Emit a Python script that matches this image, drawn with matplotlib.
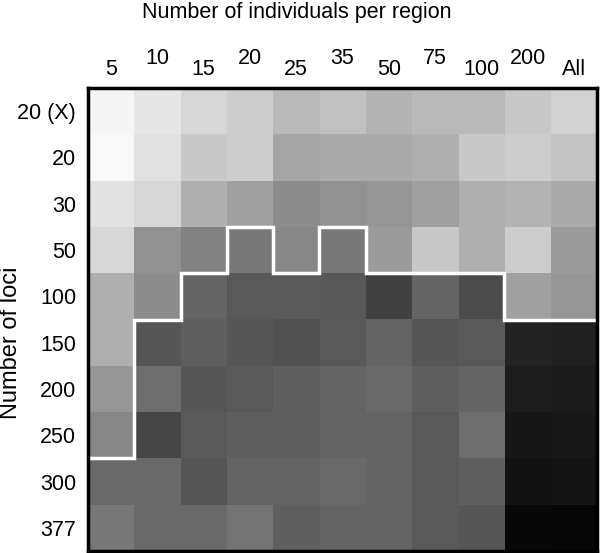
import numpy as np
import matplotlib.pyplot as plt

plt.rcParams['font.family'] = ['Liberation Sans', 'DejaVu Sans']

# column and row labels
individus = ["5", "10", "15", "20", "25", "35", "50", "75", "100", "200", "All"]
loci = ["20 (X)", "20", "30", "50", "100", "150", "200", "250", "300", "377"]

# grey level of each cell (0 = black, 255 = white)
gris = np.array([
    [245, 230, 215, 205, 185, 192, 180, 185, 185, 200, 210],
    [248, 225, 200, 205, 165, 170, 170, 175, 200, 205, 195],
    [225, 215, 175, 160, 140, 145, 150, 160, 175, 180, 170],
    [215, 145, 130, 120, 135, 120, 155, 200, 175, 205, 155],
    [175, 140, 100,  90,  90,  88,  65, 100,  75, 160, 150],
    [175,  85,  95,  85,  82,  90, 100,  85,  90,  35,  33],
    [150, 110,  85,  90,  95, 100, 105,  95, 100,  28,  27],
    [135,  70,  90,  95,  95, 100, 100,  90, 110,  22,  24],
    [105, 105,  85, 100, 100, 105, 100,  90,  95,  18,  20],
    [120, 105, 105, 115,  95, 100, 100,  90,  85,   8,   5],
])

# first row below the white line, for each column
limite = [8, 5, 4, 3, 4, 3, 4, 4, 4, 5, 5]


fig = plt.figure(figsize=(6.0, 5.53), dpi=100)
ax = fig.add_axes([88/600, 2/553, 509/600, 463/553])

ax.imshow(gris, cmap="gray", vmin=0, vmax=255, aspect="auto",
          interpolation="nearest")

# white step line
xs = []
ys = []
for i, r in enumerate(limite):
    xs += [i - 0.5, i + 0.5]
    ys += [r - 0.5, r - 0.5]
ax.plot(xs, ys, color="white", lw=2.5, solid_joinstyle="miter")
ax.set_xlim(-0.5, 10.5)
ax.set_ylim(9.5, -0.5)

# staggered labels on top
ax.xaxis.tick_top()
ax.set_xticks(range(0, 11, 2))
ax.set_xticklabels(individus[0::2])
ax.set_xticks(range(1, 11, 2), minor=True)
ax.set_xticklabels(individus[1::2], minor=True)
ax.tick_params(axis="x", which="major", length=0, pad=5.5, labelsize=15.5)
ax.tick_params(axis="x", which="minor", length=0, pad=13.5, labelsize=15.5)

ax.set_yticks(range(10))
ax.set_yticklabels(loci)
ax.tick_params(axis="y", length=0, pad=8.5, labelsize=15.5)
ax.set_ylabel("Number of loci", fontsize=17)
ax.yaxis.set_label_coords(-88/509, 0.45)
ax.yaxis.label.set_va("top")

for s in ax.spines.values():
    s.set_linewidth(2.5)

fig.text(0.495, 0.997, "Number of individuals per region", ha="center",
         va="top", fontsize=15.5)

plt.savefig("out.png", dpi=100)
